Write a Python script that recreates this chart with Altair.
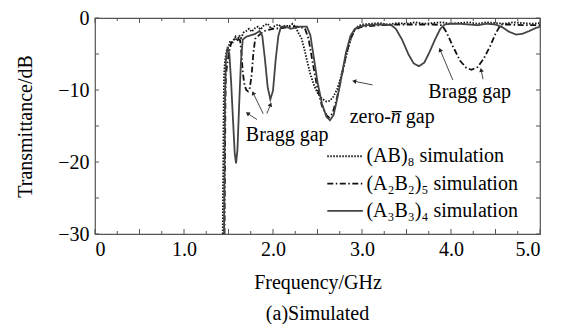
import math
import altair as alt
import pandas as pd

# ---------------- data ----------------
ab8_f = [1.435, 1.44, 1.445, 1.45, 1.46, 1.48, 1.50, 1.52, 1.54, 1.56, 1.58, 1.60, 1.62, 1.64,
         1.67, 1.70, 1.73, 1.76, 1.80, 1.83, 1.86, 1.90, 1.94, 1.98, 2.02, 2.06, 2.10, 2.14,
         2.18, 2.22, 2.26, 2.29, 2.32, 2.35, 2.38, 2.42, 2.46, 2.50, 2.55, 2.60, 2.64, 2.68,
         2.72, 2.76, 2.80, 2.84, 2.88, 2.92, 2.96, 3.00, 3.10, 3.20, 3.30, 3.40, 3.50, 3.60,
         3.70, 3.80, 3.90, 4.00, 4.10, 4.20, 4.30, 4.40, 4.50, 4.60, 4.70, 4.80, 4.90, 5.00]
ab8_db = [-30, -22, -14, -8, -6, -4.5, -4.0, -3.2, -3.6, -3.0, -2.6, -3.2, -2.4, -2.8,
          -2.0, -1.8, -1.5, -1.9, -1.4, -1.2, -1.6, -1.0, -0.8, -1.5, -1.1, -0.9, -1.3, -1.0,
          -1.2, -0.8, -1.4, -2.2, -2.8, -4.2, -5.8, -7.8, -9.3, -10.4, -11.2, -11.6, -11.5, -10.9,
          -9.9, -8.3, -6.4, -4.4, -2.7, -1.6, -1.1, -0.9, -0.8, -0.7, -0.9, -0.7, -0.8, -0.6,
          -0.8, -0.7, -0.6, -0.8, -0.7, -0.6, -0.8, -0.6, -0.7, -0.8, -0.6, -0.7, -0.8, -0.7]

a2b2_f = [1.455, 1.46, 1.465, 1.47, 1.49, 1.51, 1.53, 1.56, 1.60, 1.63, 1.645, 1.66, 1.68, 1.70,
          1.72, 1.74, 1.76, 1.78, 1.80, 1.85, 1.90, 2.00, 2.10, 2.20, 2.30, 2.36, 2.40, 2.45,
          2.50, 2.55, 2.60, 2.63, 2.67, 2.72, 2.77, 2.82, 2.87, 2.92, 3.00, 3.20, 3.40, 3.60,
          3.80, 3.90, 3.95, 4.02, 4.10, 4.17, 4.23, 4.30, 4.37, 4.44, 4.50, 4.56, 4.65, 4.80, 5.00]
a2b2_db = [-30, -21, -12, -8, -6, -4.5, -3.5, -3.0, -2.8, -3.1, -4.8, -7.5, -9.3, -10.0,
           -10.2, -9.7, -7.9, -4.8, -2.9, -2.3, -1.8, -1.5, -1.4, -1.2, -1.2, -1.5, -2.9, -6.5,
           -9.8, -12.2, -13.5, -13.8, -13.2, -11.0, -8.2, -5.2, -2.9, -1.6, -1.2, -1.0, -0.9, -0.9,
           -0.9, -1.0, -2.0, -3.9, -5.9, -6.9, -7.2, -6.8, -5.6, -3.9, -2.2, -0.9, -0.9, -1.0, -1.0]

a3b3_f = [1.45, 1.455, 1.46, 1.47, 1.49, 1.51, 1.53, 1.55, 1.57, 1.585, 1.60, 1.62, 1.64, 1.66,
          1.70, 1.75, 1.80, 1.85, 1.88, 1.91, 1.94, 1.97, 2.00, 2.03, 2.06, 2.09, 2.15, 2.20,
          2.30, 2.38, 2.42, 2.46, 2.50, 2.55, 2.60, 2.64, 2.68, 2.72, 2.77, 2.82, 2.87, 2.92,
          2.97, 3.05, 3.15, 3.25, 3.33, 3.38, 3.45, 3.52, 3.58, 3.64, 3.70, 3.76, 3.82, 3.88,
          3.93, 4.00, 4.10, 4.20, 4.30, 4.40, 4.50, 4.58, 4.65, 4.73, 4.80, 4.88, 4.95, 5.00]
a3b3_db = [-30, -22, -12, -6, -4, -5, -9, -14, -18.8, -20.2, -18.4, -12, -6, -3,
           -2.6, -2.4, -2.2, -1.8, -2.5, -5.8, -9.6, -11.3, -10.1, -5.8, -2.5, -1.2, -1.2, -1.5,
           -1.2, -1.2, -2.4, -5.6, -8.9, -11.9, -13.7, -14.2, -13.5, -11.3, -8.1, -4.8, -2.5, -1.5,
           -1.2, -1.0, -0.9, -0.9, -1.0, -1.5, -3.0, -5.0, -6.3, -6.7, -6.2, -4.7, -3.0, -1.5,
           -0.9, -0.8, -0.8, -0.9, -1.0, -0.8, -0.9, -1.3, -1.9, -2.3, -2.2, -1.8, -1.4, -1.2]

series_names = ["(AB)\u2088 simulation", "(A\u2082B\u2082)\u2085 simulation", "(A\u2083B\u2083)\u2084 simulation"]

x_label_values = [0, 1, 2, 3, 4, 5]
y_label_values = [0, -10, -20, -30]
x_major_ticks = [0.5 * i for i in range(11)]
x_minor_ticks = [0.25 + 0.5 * i for i in range(10)]
y_ticks = [-5 * i for i in range(7)]

# annotations: text, freq, dB
bragg_text = ["Bragg gap", "Bragg gap"]
bragg_f = [2.16, 4.21]
bragg_db = [-16.3, -10.3]
zero_f, zero_db = 3.38, -13.8

# arrows: (f_from, db_from, f_to, db_to)
arrows = [
    (1.82, -14.1, 1.72, -13.3),
    (1.89, -13.3, 1.78, -10.5),
    (1.93, -13.3, 1.97, -12.1),
    (3.12, -9.3, 2.92, -8.8),
    (4.02, -8.6, 3.88, -4.5),
    (4.36, -8.5, 4.34, -7.3),
]

# legend rows (dB) and line span (GHz)
legend_db = [-19.2, -23.0, -26.8]
legend_f0, legend_f1, legend_ftext = 2.61, 3.01, 3.05

# ---------------- build tables ----------------
W, H = 445, 216
FONT = "Liberation Serif"
FS = 20

rows = []
for name, fs, ds in zip(series_names, [ab8_f, a2b2_f, a3b3_f], [ab8_db, a2b2_db, a3b3_db]):
    for i, (f, d) in enumerate(zip(fs, ds)):
        rows.append({"series": name, "f": f, "db": d, "order": i})
curves = pd.DataFrame(rows)

xs = alt.Scale(domain=[0, 5], nice=False)
ys = alt.Scale(domain=[-30, 0], nice=False)

dash_scale = alt.Scale(domain=series_names, range=[[1.5, 1.5], [6, 2.5, 1.5, 2.5], [1, 0]])
width_scale = alt.Scale(domain=series_names, range=[1.8, 1.8, 1.0])
color_scale = alt.Scale(domain=series_names, range=["#111", "#111", "#444"])

lines = alt.Chart(curves).mark_line(clip=True).encode(
    x=alt.X("f:Q", scale=xs, axis=alt.Axis(values=x_label_values, ticks=False, domain=False, grid=False,
                                           labelExpr="datum.value == 0 ? '0' : format(datum.value, '.1f')",
                                           title="Frequency/GHz", labelPadding=5, titlePadding=13)),
    y=alt.Y("db:Q", scale=ys, axis=alt.Axis(values=y_label_values, ticks=False, domain=False, grid=False,
                                            labelExpr="replace(format(datum.value, 'd'), '-', '\u2212')",
                                            title="Transmittance/dB", labelPadding=6, titlePadding=22)),
    order="order:Q",
    detail="series:N",
    strokeDash=alt.StrokeDash("series:N", scale=dash_scale, legend=None),
    strokeWidth=alt.StrokeWidth("series:N", scale=width_scale, legend=None),
    color=alt.Color("series:N", scale=color_scale, legend=None),
)

# legend drawn as a small table of line stubs and labels
leg_rows = []
for name, d in zip(series_names, legend_db):
    leg_rows.append({"series": name, "f": legend_f0, "db": d, "order": 0})
    leg_rows.append({"series": name, "f": legend_f1, "db": d, "order": 1})
leg_df = pd.DataFrame(leg_rows)
leg_lines = alt.Chart(leg_df).mark_line().encode(
    x=alt.X("f:Q", scale=xs), y=alt.Y("db:Q", scale=ys), order="order:Q", detail="series:N",
    strokeDash=alt.StrokeDash("series:N", scale=dash_scale, legend=None),
    strokeWidth=alt.StrokeWidth("series:N", scale=width_scale, legend=None),
    color=alt.Color("series:N", scale=color_scale, legend=None),
)
leg_text_df = pd.DataFrame({"t": series_names, "f": [legend_ftext] * 3, "db": legend_db})
leg_texts = alt.Chart(leg_text_df).mark_text(font=FONT, fontSize=FS, color="#000", align="left",
                                             baseline="middle").encode(
    x=alt.X("f:Q", scale=xs), y=alt.Y("db:Q", scale=ys), text="t:N")

# inward ticks
def tick_layer(values, orient, length):
    df = pd.DataFrame({"v": values})
    base = alt.Chart(df).mark_rule(color="#555", strokeWidth=1)
    if orient in ("bottom", "top"):
        y0 = H if orient == "bottom" else 0
        y1 = H - length if orient == "bottom" else length
        return base.encode(x=alt.X("v:Q", scale=xs), y=alt.value(y0), y2=alt.value(y1))
    x0 = 0 if orient == "left" else W
    x1 = length if orient == "left" else W - length
    return base.encode(y=alt.Y("v:Q", scale=ys), x=alt.value(x0), x2=alt.value(x1))

ticks = [
    tick_layer(x_major_ticks, "bottom", 5), tick_layer(x_minor_ticks, "bottom", 3),
    tick_layer(x_major_ticks, "top", 5), tick_layer(x_minor_ticks, "top", 3),
    tick_layer(y_ticks, "left", 4), tick_layer(y_ticks, "right", 4),
]

ann = pd.DataFrame({"t": bragg_text, "f": bragg_f, "db": bragg_db})
texts = alt.Chart(ann).mark_text(font=FONT, fontSize=FS, color="#000", align="center", baseline="middle").encode(
    x=alt.X("f:Q", scale=xs), y=alt.Y("db:Q", scale=ys), text="t:N")

zdf = pd.DataFrame({"f": [zero_f], "db": [zero_db]})
zbase = alt.Chart(zdf)
z1 = zbase.mark_text(font=FONT, fontSize=FS, color="#000", align="right", baseline="middle", dx=-5).encode(
    x=alt.X("f:Q", scale=xs), y=alt.Y("db:Q", scale=ys), text=alt.value("zero-"))
z2 = zbase.mark_text(font=FONT, fontSize=FS, color="#000", align="center", baseline="middle",
                     fontStyle="italic").encode(
    x=alt.X("f:Q", scale=xs), y=alt.Y("db:Q", scale=ys), text=alt.value("n\u0305"))
z3 = zbase.mark_text(font=FONT, fontSize=FS, color="#000", align="left", baseline="middle", dx=10).encode(
    x=alt.X("f:Q", scale=xs), y=alt.Y("db:Q", scale=ys), text=alt.value("gap"))

# arrows
px_per_f = W / 5.0
px_per_db = H / 30.0
arr_rows = []
for f0, d0, f1, d1 in arrows:
    dx = (f1 - f0) * px_per_f
    dy = -(d1 - d0) * px_per_db
    ang = (math.degrees(math.atan2(dx, -dy)) + 360) % 360
    arr_rows.append({"f0": f0, "d0": d0, "f1": f1, "d1": d1, "ang": ang})
arr = pd.DataFrame(arr_rows)
arrow_lines = alt.Chart(arr).mark_rule(color="#333", strokeWidth=0.9).encode(
    x=alt.X("f0:Q", scale=xs), y=alt.Y("d0:Q", scale=ys), x2="f1:Q", y2="d1:Q")
arrow_heads = alt.Chart(arr).mark_point(shape="triangle", filled=True, color="#222", size=22, opacity=1).encode(
    x=alt.X("f1:Q", scale=xs), y=alt.Y("d1:Q", scale=ys), angle=alt.Angle("ang:Q", scale=None))

chart = alt.layer(lines, *ticks, texts, z1, z2, z3, arrow_lines, arrow_heads, leg_lines, leg_texts).properties(
    width=W, height=H,
    title=alt.TitleParams("(a)Simulated", orient="bottom", font=FONT, fontSize=FS, fontWeight="normal",
                          color="#000", offset=12),
    autosize=alt.AutoSizeParams(type="none"),
    padding={"left": 87, "top": 10, "right": 22, "bottom": 90},
).configure_view(stroke="#555", strokeWidth=1.2).configure_axis(
    labelFont=FONT, labelFontSize=FS, labelColor="#000", titleFont=FONT, titleFontSize=FS,
    titleFontWeight="normal", titleColor="#000"
)

chart.save("out.html", embed_options={"renderer": "svg", "actions": False})
